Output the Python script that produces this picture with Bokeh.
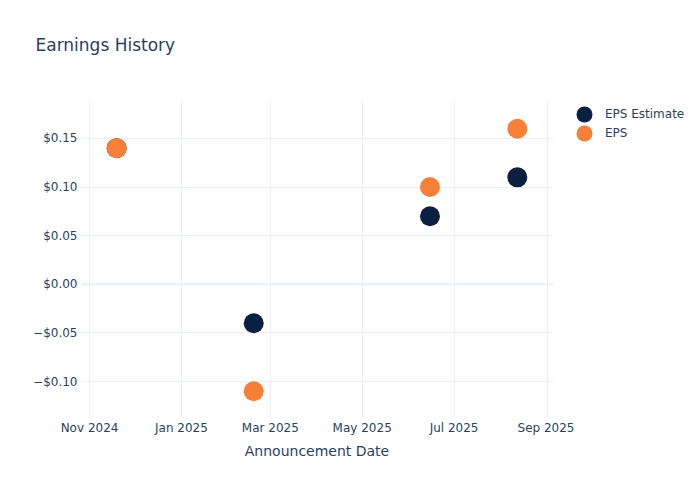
from datetime import datetime
from bokeh.plotting import figure
from bokeh.layouts import column, row
from bokeh.models import (ColumnDataSource, Range1d, FixedTicker, Span, Label,
                          Legend, LegendItem)
from bokeh.embed import file_html
from bokeh.resources import INLINE

# ---- data ----
dates = ["2024-11-19", "2025-02-18", "2025-06-15", "2025-08-12"]
eps_estimate = [0.14, -0.04, 0.07, 0.11]
eps_actual = [0.14, -0.11, 0.10, 0.16]
series_names = ["EPS Estimate", "EPS"]

y_ticks = [-0.10, -0.05, 0.0, 0.05, 0.10, 0.15]
y_tick_labels = ["\u2212$0.10", "\u2212$0.05", "$0.00", "$0.05", "$0.10", "$0.15"]
x_tick_dates = ["2024-11-01", "2025-01-01", "2025-03-01", "2025-05-01", "2025-07-01", "2025-09-01"]
x_tick_labels = ["Nov 2024", "Jan 2025", "Mar 2025", "May 2025", "Jul 2025", "Sep 2025"]
title_text = "Earnings History"
x_title = "Announcement Date"

FONT = "DejaVu Sans"
TXT = "#2a3f5f"
GRID = "#ebf0f8"
NAVY = "#0b1f41"
ORANGE = "#f68038"
EPOCH = datetime(1970, 1, 1)

def ms(s):
    return (datetime.strptime(s, "%Y-%m-%d") - EPOCH).total_seconds() * 1000.0

def bare(fig):
    fig.outline_line_color = None
    fig.background_fill_color = "white"
    fig.border_fill_color = "white"
    fig.min_border = 0
    fig.min_border_left = 0
    fig.min_border_right = 0
    fig.min_border_top = 0
    fig.min_border_bottom = 0

src = ColumnDataSource(dict(
    date=[ms(d) for d in dates],
    est=eps_estimate,
    eps=eps_actual,
))

# ---- title strip ----
tf = figure(width=695, height=70, output_backend="svg", toolbar_location=None,
            x_range=Range1d(0, 695), y_range=Range1d(70, 0),
            x_axis_location=None, y_axis_location=None)
bare(tf)
tf.grid.visible = False
tf.add_layout(Label(x=35, y=44, text=title_text, text_font=FONT,
                    text_font_size="17px", text_color=TXT,
                    text_baseline="middle", text_align="left"))

# ---- main plot ----
p = figure(width=574, height=425, x_axis_type="datetime",
           output_backend="svg", toolbar_location=None,
           x_range=Range1d(ms("2024-10-26"), ms("2025-09-05")),
           y_range=Range1d(-0.138, 0.189))
bare(p)
p.min_border_left = 80
p.min_border_right = 21
p.min_border_top = 30
p.min_border_bottom = 77

p.xgrid.grid_line_color = GRID
p.ygrid.grid_line_color = GRID
p.xgrid.ticker = FixedTicker(ticks=[ms(d) for d in x_tick_dates])
p.ygrid.ticker = FixedTicker(ticks=y_ticks)
p.add_layout(Span(location=0, dimension="width", line_color=GRID, line_width=2))

for ax in (p.xaxis[0], p.yaxis[0]):
    ax.axis_line_color = None
    ax.major_tick_line_color = None
    ax.minor_tick_line_color = None
    ax.major_tick_out = 0
    ax.major_tick_in = 0
    ax.minor_tick_out = 0
    ax.minor_tick_in = 0
    ax.major_label_text_font = FONT
    ax.major_label_text_font_size = "12px"
    ax.major_label_text_color = TXT

p.xaxis[0].ticker = FixedTicker(ticks=[ms(d) for d in x_tick_dates])
p.xaxis[0].major_label_overrides = {ms(d): l for d, l in zip(x_tick_dates, x_tick_labels)}
p.xaxis[0].major_label_standoff = 2
p.xaxis[0].axis_label = x_title
p.xaxis[0].axis_label_text_font = FONT
p.xaxis[0].axis_label_text_font_size = "14px"
p.xaxis[0].axis_label_text_font_style = "normal"
p.xaxis[0].axis_label_text_color = TXT
p.xaxis[0].axis_label_standoff = 5

p.yaxis[0].ticker = FixedTicker(ticks=y_ticks)
p.yaxis[0].major_label_overrides = {t: l for t, l in zip(y_ticks, y_tick_labels)}
p.yaxis[0].major_label_standoff = 3

p.scatter("date", "est", source=src, size=20, marker="circle",
          fill_color=NAVY, line_color=None)
p.scatter("date", "eps", source=src, size=20, marker="circle",
          fill_color=ORANGE, line_color=None)

# ---- legend strip (same series, its points fall outside this strip's ranges) ----
lf = figure(width=121, height=425, output_backend="svg", toolbar_location=None,
            x_range=Range1d(0, 1), y_range=Range1d(0, 1),
            x_axis_location=None, y_axis_location=None)
bare(lf)
lf.grid.visible = False
l_est = lf.scatter("date", "est", source=src, marker="circle", size=20,
                   fill_color=NAVY, line_color=None)
l_eps = lf.scatter("date", "eps", source=src, marker="circle", size=20,
                   fill_color=ORANGE, line_color=None)

legend_y = [284, 265]
for name, rend, ly in zip(series_names, [l_est, l_eps], legend_y):
    lg = Legend(items=[LegendItem(label=name, renderers=[rend])],
                location=(-10, ly),
                background_fill_alpha=0, border_line_color=None,
                label_text_font=FONT, label_text_font_size="12px",
                label_text_color=TXT, glyph_width=40, glyph_height=40,
                label_height=40, label_standoff=1, spacing=0,
                padding=0, margin=0)
    lf.add_layout(lg, "center")

layout = column(tf, row(p, lf))
open("out.html", "w").write(file_html(layout, INLINE))
